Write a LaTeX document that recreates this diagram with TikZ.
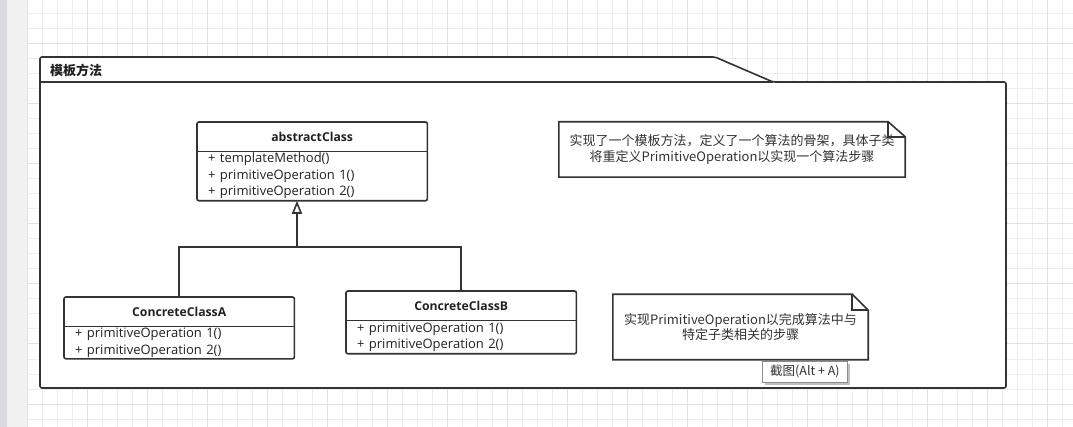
\documentclass[tikz,border=0pt]{standalone}
\usepackage{fontspec}
\setmainfont{Noto Sans CJK SC}
\newfontfamily\umlfont{Open Sans}
\usetikzlibrary{arrows.meta}
\usetikzlibrary{positioning}
\usetikzlibrary{shadows}
\definecolor{umlline}{HTML}{333333}
\definecolor{umltext}{HTML}{222222}
\definecolor{notetext}{HTML}{333333}
\definecolor{gridminor}{HTML}{EEEEEE}
\definecolor{gridmajor}{HTML}{E1E1E1}
\definecolor{sidebar}{HTML}{DADBDF}
\definecolor{sidepanel}{HTML}{F1F1F1}
\tikzset {
  % grid of the drawing canvas
  grid minor/.style = {
    draw = gridminor,
    line width = 1pt
  },
  grid major/.style = {
    draw = gridmajor,
    line width = 1pt
  },
  % package frame
  frame line/.style = {
    draw = umlline,
    fill = white,
    line width = 1.6pt,
    rounded corners = 2pt
  },
  frame title/.style = {
    anchor = west,
    inner sep = 0,
    text = umltext,
    font = \fontsize{13}{15}\selectfont\bfseries
  }
}
\tikzset {
  % class name compartment
  class head/.style = {
    anchor = north west,
    minimum width = 230pt,
    minimum height = 29pt,
    inner sep = 0,
    text = umltext,
    font = \umlfont\fontsize{12.2}{14}\selectfont\bfseries
  },
  % operations compartment
  class body/.style = {
    minimum width = 230pt,
    text width = 208pt,
    inner xsep = 11pt,
    inner ysep = 0,
    align = left,
    text = umltext,
    font = \umlfont\fontsize{13}{16.5}\selectfont
  },
  class frame/.style = {
    draw = umlline,
    line width = 1.6pt,
    rounded corners = 2pt
  },
  class line/.style = {
    draw = umlline,
    line width = 1.6pt
  },
  % generalization connector
  generalize/.style = {
    class line,
    -{Triangle[open, length = 13pt, width = 10pt]}
  },
  % comment note
  note box/.style = {
    inner sep = 0,
    align = center,
    text = notetext,
    font = \fontsize{13}{15.5}\selectfont
  },
  note line/.style = {
    draw = umlline,
    line width = 1.6pt
  },
  % screenshot hint
  hint/.style = {
    anchor = north west,
    draw = gray!90,
    fill = white,
    line width = 0.8pt,
    minimum width = 85pt,
    minimum height = 21pt,
    inner sep = 0,
    text = notetext,
    font = \fontsize{12.5}{14}\selectfont,
    drop shadow = {shadow xshift = 3pt, shadow yshift = -3pt, fill = black, opacity = 0.25}
  }
}
\begin{document}
\begin{tikzpicture}[x = 1pt, y = -1pt]
    \useasboundingbox (0,0) rectangle (1073,427);

    % canvas
    \fill[sidebar] (0,0) rectangle (7,427);
    \fill[sidepanel] (7,0) rectangle (27,427);
    \foreach \gx in {27,42,...,1072}
      \draw[grid minor] (\gx,0) -- (\gx,427);
    \foreach \gy in {14,29,...,427}
      \draw[grid minor] (27,\gy) -- (1073,\gy);
    \foreach \gx in {27,87,...,1072}
      \draw[grid major] (\gx,0) -- (\gx,427);
    \foreach \gy in {44,104,...,427}
      \draw[grid major] (27,\gy) -- (1073,\gy);

    % package frame
    \draw[frame line] (40,82) -- (40,57) -- (715,57) -- (773,82)
    -- (1006,82) -- (1006,388) -- (40,388) -- cycle;
    \draw[class line] (40,82) -- (773,82);
    \node[frame title] (frame-title) at (50,70) {模板方法};

    % classes
    \node[class head] (abs-head) at (197,122) {abstractClass};
    \node[class body, minimum height = 49pt] (abs-body) [below=0pt of abs-head]
    {+ templateMethod()\\+ primitiveOperation 1()\\+ primitiveOperation 2()};

    \node[class head] (a-head) at (64,297) {ConcreteClassA};
    \node[class body, minimum height = 32pt] (a-body) [below=0pt of a-head]
    {+ primitiveOperation 1()\\+ primitiveOperation 2()};

    \node[class head] (b-head) at (346,291) {ConcreteClassB};
    \node[class body, minimum height = 33pt] (b-body) [below=0pt of b-head]
    {+ primitiveOperation 1()\\+ primitiveOperation 2()};

    \foreach \cls in {abs,a,b} {
      \draw[class frame] (\cls-head.north west) rectangle (\cls-body.south east);
      \draw[class line] (\cls-head.south west) -- (\cls-head.south east);
    }

    % generalization
    \coordinate (gen-join) at (297,247);
    \draw[class line] (a-head.north) |- (gen-join);
    \draw[class line] (b-head.north) |- (gen-join);
    \draw[generalize] (gen-join) -- (gen-join |- abs-body.south);

    % notes
    \node[note box, minimum width = 346pt, minimum height = 55pt] (note-tmpl) at (732,149.5)
    {实现了一个模板方法，定义了一个算法的骨架，具体子类\\将重定义PrimitiveOperation以实现一个算法步骤};
    \draw[note line] (note-tmpl.north west) -- ([xshift=-17pt]note-tmpl.north east)
    -- ([yshift=-15pt]note-tmpl.north east) -- (note-tmpl.south east)
    -- (note-tmpl.south west) -- cycle;
    \draw[note line] ([xshift=-17pt]note-tmpl.north east)
    |- ([yshift=-15pt]note-tmpl.north east);

    \node[note box, minimum width = 255pt, minimum height = 65pt] (note-prim) at (740.5,327)
    {实现PrimitiveOperation以完成算法中与\\特定子类相关的步骤};
    \draw[note line] (note-prim.north west) -- ([xshift=-16pt]note-prim.north east)
    -- ([yshift=-16pt]note-prim.north east) -- (note-prim.south east)
    -- (note-prim.south west) -- cycle;
    \draw[note line] ([xshift=-16pt]note-prim.north east)
    |- ([yshift=-16pt]note-prim.north east);

    % hint
    \node[hint] (hint) at (762,361) {截图(Alt + A)};
  \end{tikzpicture}
\end{document}
